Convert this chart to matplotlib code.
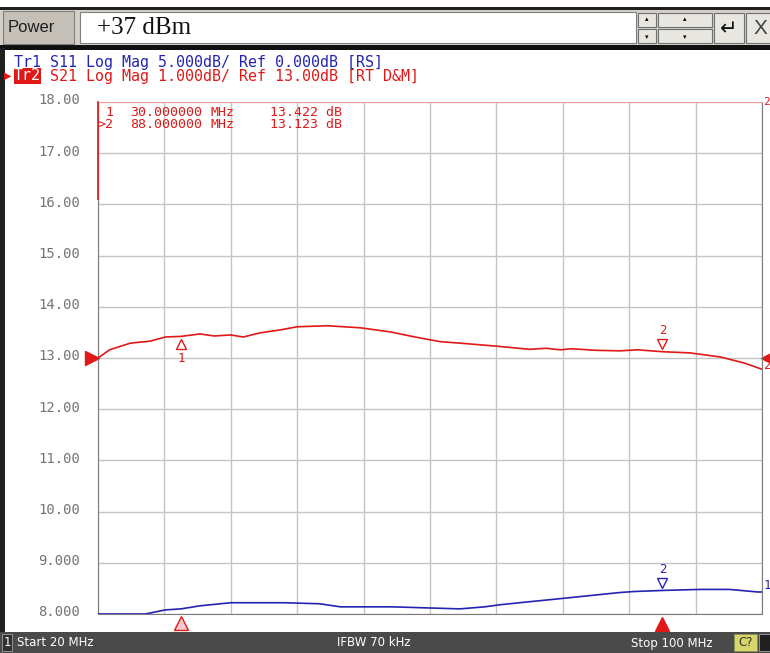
"""VNA screenshot look-alike: S11 / S21 log-mag traces, 20-100 MHz."""

import matplotlib
matplotlib.use("Agg")
import matplotlib.pyplot as plt
from matplotlib.patches import Rectangle
from matplotlib.transforms import blended_transform_factory, ScaledTranslation

# --- data -------------------------------------------------------------------
s21_freq = [20.0, 21.4, 23.9, 26.3, 28.1, 30.0, 32.3, 34.0, 36.0, 37.5, 39.5, 42.0,
            44.0, 47.6, 51.6, 55.2, 58.2, 61.2, 63.6, 68.1, 72.0, 74.0, 75.7, 77.0,
            78.1, 80.0, 82.9, 85.0, 88.0, 91.3, 95.0, 97.9, 100.0]
s21_db = [13.00, 13.16, 13.29, 13.33, 13.41, 13.422, 13.47, 13.43, 13.45, 13.41, 13.49, 13.55,
          13.61, 13.63, 13.59, 13.51, 13.41, 13.32, 13.29, 13.23, 13.17, 13.19, 13.16, 13.18,
          13.17, 13.15, 13.14, 13.16, 13.123, 13.10, 13.02, 12.90, 12.78]

s11_freq = [20.0, 25.7, 28.1, 30.0, 32.3, 36.0, 39.5, 42.5, 46.7, 49.2, 55.4, 63.6,
            66.6, 68.4, 72.0, 75.7, 79.3, 82.9, 84.7, 88.0, 92.5, 96.1, 99.5, 100.0]
s11_db = [-25.0, -25.0, -24.6, -24.5, -24.2, -23.9, -23.9, -23.9, -24.0, -24.3, -24.3, -24.5,
          -24.3, -24.1, -23.8, -23.5, -23.2, -22.9, -22.8, -22.7, -22.6, -22.6, -22.85, -22.85]

markers_mhz = [30.0, 88.0]
marker_ids = ["1", ">2"]
marker_freq_txt = ["30.000000", "88.000000"]
marker_val_txt = ["13.422 dB", "13.123 dB"]
ytick_vals = [18, 17, 16, 15, 14, 13, 12, 11, 10, 9, 8]
ytick_labels = ["18.00", "17.00", "16.00", "15.00", "14.00", "13.00",
                "12.00", "11.00", "10.00", "9.000", "8.000"]

RED = "#e01818"
BLUE = "#2424b4"
W, H = 770, 653
MONO = "DejaVu Sans Mono"


def fx(px):
    return px / W


def fy(py):
    return 1 - py / H


def box(fig, x0, y0, x1, y1, **kw):
    fig.patches.append(Rectangle((fx(x0), fy(y1)), fx(x1) - fx(x0), fy(y0) - fy(y1),
                                 transform=fig.transFigure, **kw))


fig = plt.figure(figsize=(W / 100, H / 100), dpi=100, facecolor="white")

# --- window chrome -----------------------------------------------------------
box(fig, 0, 7, 770, 48, facecolor="#d4d0c8", edgecolor="none")
box(fig, 0, 7, 770, 10, facecolor="#202020", edgecolor="none")
box(fig, 0, 45, 770, 50, facecolor="#101010", edgecolor="none")
box(fig, 0, 48, 5, 632, facecolor="#202020", edgecolor="none")
box(fig, 3, 11, 74, 44, facecolor="#c4c0b8", edgecolor="#808080", linewidth=0.8)
fig.text(fx(8), fy(28), "Power", fontsize=12, color="#202020", va="center",
         family="Liberation Sans")
box(fig, 80, 12, 636, 43, facecolor="white", edgecolor="#808080", linewidth=0.8)
fig.text(fx(97), fy(28), "+37 dBm", fontsize=18, color="#101010", va="center",
         family="Liberation Serif")
for (x0, x1) in [(638, 656), (658, 712)]:
    box(fig, x0, 13, x1, 27, facecolor="#e8e6e0", edgecolor="#707070", linewidth=0.8)
    box(fig, x0, 29, x1, 43, facecolor="#e8e6e0", edgecolor="#707070", linewidth=0.8)
    fig.text(fx((x0 + x1) / 2), fy(19), "▴", fontsize=5, ha="center", va="center")
    fig.text(fx((x0 + x1) / 2), fy(37), "▾", fontsize=5, ha="center", va="center")
box(fig, 714, 13, 744, 43, facecolor="#e8e6e0", edgecolor="#707070", linewidth=0.8)
fig.text(fx(729), fy(29), "↵", fontsize=15, ha="center", va="center", color="#101010")
box(fig, 746, 13, 772, 43, facecolor="#e8e6e0", edgecolor="#707070", linewidth=0.8)
fig.text(fx(760), fy(28), "X", fontsize=15, ha="center", va="center", color="#404040",
         family="Liberation Sans")

# status bar
box(fig, 0, 632, 770, 653, facecolor="#4a4a4a", edgecolor="none")
box(fig, 2, 634, 12, 651, facecolor="#303030", edgecolor="#a0a0a0", linewidth=0.6)
fig.text(fx(7), fy(643), "1", fontsize=8.5, color="white", ha="center", va="center")
fig.text(fx(17), fy(643), "Start 20 MHz", fontsize=8.5, color="white", va="center")
fig.text(fx(374), fy(643), "IFBW 70 kHz", fontsize=8.5, color="white", ha="center", va="center")
fig.text(fx(713), fy(643), "Stop 100 MHz", fontsize=8.5, color="white", ha="right", va="center")
box(fig, 734, 634, 757, 651, facecolor="#d6d66c", edgecolor="#909050", linewidth=0.6)
fig.text(fx(745.5), fy(643), "C?", fontsize=8.5, color="#303030", ha="center", va="center")
box(fig, 759, 634, 770, 651, facecolor="#202020", edgecolor="#a0a0a0", linewidth=0.6)

# trace headers
fig.text(fx(14), fy(62), "Tr1 S11 Log Mag 5.000dB/ Ref 0.000dB [RS]",
         fontsize=10.8, color=BLUE, va="center", family=MONO)
fig.text(fx(14), fy(76), "Tr2", fontsize=10.8, color="white", va="center", family=MONO,
         bbox=dict(boxstyle="square,pad=0.02", facecolor=RED, edgecolor="none"))
fig.text(fx(4), fy(76), "▶", fontsize=7, color=RED, va="center")
fig.text(fx(50), fy(76), "S21 Log Mag 1.000dB/ Ref 13.00dB [RT D&M]",
         fontsize=10.8, color=RED, va="center", family=MONO)

# --- plot area ----------------------------------------------------------------
ax = fig.add_axes([fx(98), fy(614), fx(762) - fx(98), fy(102) - fy(614)])
ax.set_facecolor("white")
ax.set_xlim(20, 100)
ax.set_ylim(8, 18)
ax.set_xticks(range(20, 101, 8))
ax.set_yticks(ytick_vals)
ax.set_yticklabels(ytick_labels, family=MONO)
ax.tick_params(axis="x", length=0, labelbottom=False)
ax.tick_params(axis="y", length=0, pad=13, labelsize=10, labelcolor="#747474")
ax.grid(True, color="#c4c4c4", linewidth=1.0)
for side in ["left", "right", "bottom"]:
    ax.spines[side].set_color("#7a7a7a")
ax.spines["top"].set_color("#f0a0a0")
lift = ScaledTranslation(0, 3 / 100, fig.dpi_scale_trans)
for lbl in ax.get_yticklabels():
    lbl.set_transform(lbl.get_transform() + lift)

# blue trace uses its own scale: 5 dB/div, ref 0 dB at the same division as 13 dB
ax2 = ax.twinx()
ax2.set_ylim(-25, 25)
ax2.axis("off")

ax.plot(s21_freq, s21_db, color=RED, linewidth=1.2, zorder=3)
ax2.plot(s11_freq, s11_db, color=BLUE, linewidth=1.2, zorder=3)

# marker table (column layout) + left red segment
ax.plot([20, 20], [18, 16.1], color=RED, linewidth=1.2, clip_on=False, zorder=4)
for i in range(len(marker_ids)):
    yy = fy(112 + i * 12.5)
    fig.text(fx(113), yy, marker_ids[i], fontsize=9.5, color=RED, family=MONO,
             va="center", ha="right")
    fig.text(fx(130), yy, marker_freq_txt[i], fontsize=9.5, color=RED, family=MONO,
             va="center")
    fig.text(fx(211), yy, "MHz", fontsize=9.5, color=RED, family=MONO, va="center")
    fig.text(fx(270), yy, marker_val_txt[i], fontsize=9.5, color=RED, family=MONO,
             va="center")

# markers on red trace
m1_db = s21_db[s21_freq.index(markers_mhz[0])]
m2_db = s21_db[s21_freq.index(markers_mhz[1])]
ax.plot(markers_mhz[0], m1_db - 0.15, marker="^", markersize=7, mfc="none", mec=RED,
        mew=1.0, zorder=5)
ax.text(markers_mhz[0], m1_db - 0.30, "1", color=RED, fontsize=9, ha="center", va="top",
        family=MONO)
ax.plot(markers_mhz[1], m2_db + 0.15, marker="v", markersize=7, mfc="none", mec=RED,
        mew=1.0, zorder=5)
ax.text(markers_mhz[1], m2_db + 0.28, "2", color=RED, fontsize=9, ha="center", va="bottom",
        family=MONO)

# markers on blue trace
b2_db = s11_db[s11_freq.index(markers_mhz[1])]
ax2.plot(markers_mhz[1], b2_db + 0.75, marker="v", markersize=7, mfc="none", mec=BLUE,
         mew=1.0, zorder=5)
ax2.text(markers_mhz[1], b2_db + 1.4, "2", color=BLUE, fontsize=9, ha="center", va="bottom",
         family=MONO)

# off-screen / stimulus indicators below the grid
bx = blended_transform_factory(ax.transData, ax.transAxes)
ax.plot(markers_mhz[0], -0.018, marker="^", markersize=10, mfc="#f4c8d0", mec=RED,
        mew=1.0, transform=bx, clip_on=False, zorder=6)
ax.plot(markers_mhz[1], -0.020, marker="^", markersize=10, color=RED,
        transform=bx, clip_on=False, zorder=6)

# reference-level arrows
by = blended_transform_factory(ax.transAxes, ax.transData)
ax.plot(-0.009, 13, marker=">", markersize=10, color=RED, transform=by, clip_on=False)
ax.plot(1.009, 13, marker="<", markersize=10, color=RED, transform=by, clip_on=False)
ax.text(1.002, 12.85, "2", color=RED, fontsize=9, transform=by, va="center", family=MONO)
ax.text(1.002, 18.0, "2", color=RED, fontsize=8, transform=by, va="center", family=MONO)
ax.text(1.002, 8.55, "1", color=BLUE, fontsize=9, transform=by, va="center", family=MONO)

fig.savefig("out.png", dpi=100)
